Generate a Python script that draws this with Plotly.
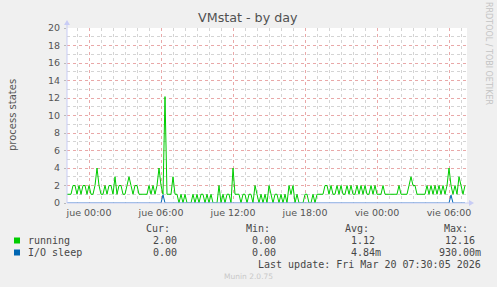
import pandas as pd
import plotly.graph_objects as go

# ---------------- data ----------------
start_time = "2026-03-18 22:10"
step_minutes = 10
running = [
    1, 1, 1, 2, 2, 1, 2, 1, 2, 2, 1, 2, 1, 1, 2, 4, 2, 1, 1, 2,
    1, 2, 2, 1, 3, 1, 2, 2, 1, 1, 2, 3, 2, 1, 2, 2, 1, 1, 1, 1,
    1, 2, 1, 2, 1, 2, 4, 2, 1, 12.16, 1, 1, 1, 3, 1, 1, 0, 1, 0, 1,
    0, 0, 0, 1, 0, 1, 0, 1, 1, 0, 1, 0, 1, 0, 0, 0, 2, 0, 1, 0,
    1, 1, 0, 4, 1, 1, 1, 0, 1, 1, 0, 1, 1, 0, 2, 1, 0, 1, 0, 1,
    0, 2, 1, 0, 1, 1, 0, 1, 0, 1, 0, 2, 1, 2, 0, 1, 0, 0, 0, 1,
    1, 0, 0, 1, 0, 1, 1, 1, 1, 2, 2, 1, 2, 1, 1, 2, 1, 2, 1, 1,
    2, 1, 2, 1, 1, 2, 1, 2, 1, 2, 1, 1, 2, 1, 2, 1, 1, 1, 2, 1,
    1, 1, 1, 1, 1, 1, 2, 1, 1, 1, 1, 2, 3, 2, 2, 1, 1, 1, 1, 1,
    2, 1, 2, 1, 2, 1, 2, 1, 2, 1, 2, 4, 2, 1, 2, 1, 3, 2, 1, 2,
]
io_sleep = [0.0] * len(running)
io_sleep_spikes = {48: 0.93, 192: 0.9}

x_range = ["2026-03-18 22:10", "2026-03-20 07:30"]
tick_vals = ["2026-03-19 00:00", "2026-03-19 06:00", "2026-03-19 12:00",
             "2026-03-19 18:00", "2026-03-20 00:00", "2026-03-20 06:00"]
tick_text = ["jue 00:00", "jue 06:00", "jue 12:00", "jue 18:00",
             "vie 00:00", "vie 06:00"]

series_names = ["running", "I/O sleep"]
series_colors = ["#00CC00", "#0066B3"]
stat_headers = ["Cur:", "Min:", "Avg:", "Max:"]
stats = [
    ["2.00", "0.00", "1.12", "12.16"],
    ["0.00", "0.00", "4.84m", "930.00m"],
]
title = "VMstat - by day"
y_title = "process states"
last_update = "Last update: Fri Mar 20 07:30:05 2026"
footer = "Munin 2.0.75"
watermark = "RRDTOOL / TOBI OETIKER"

for k, v in io_sleep_spikes.items():
    io_sleep[k] = v

times = pd.date_range(start=start_time, periods=len(running), freq=f"{step_minutes}min")

# ---------------- figure ----------------
W, H = 497, 287
L, T, PW, PH = 67, 28, 400, 175


def px(x):
    return (x - L) / PW


def py(y):
    return (T + PH - y) / PH


fig = go.Figure()
fig.add_trace(go.Scatter(x=times, y=running, mode="lines",
                         line=dict(color=series_colors[0], width=1),
                         hoverinfo="skip", showlegend=False))
fig.add_trace(go.Scatter(x=times, y=io_sleep, mode="lines",
                         line=dict(color=series_colors[1], width=1),
                         hoverinfo="skip", showlegend=False))

grid_major = "#E9A8A8"
grid_minor = "#D4D4D4"
txt = "#555555"

fig.update_layout(
    width=W, height=H, autosize=False,
    margin=dict(l=L, r=W - L - PW, t=T, b=H - T - PH, pad=0),
    paper_bgcolor="#F0F0F0", plot_bgcolor="#FFFFFF",
    font=dict(family="DejaVu Sans", size=9.5, color=txt),
    xaxis=dict(
        type="date", range=x_range, tickmode="array",
        tickvals=tick_vals, ticktext=tick_text,
        showgrid=True, gridcolor=grid_major, griddash="dot", gridwidth=1,
        minor=dict(tickmode="linear", tick0="2026-03-19 00:00", dtick=3600000,
                   showgrid=True, gridcolor=grid_minor, griddash="dot", gridwidth=1),
        showline=False, zeroline=False, ticks="", ticklabelstandoff=2,
        tickfont=dict(size=9.5, color=txt, family="DejaVu Sans"),
    ),
    yaxis=dict(
        range=[0, 20], tickmode="linear", tick0=0, dtick=2,
        showgrid=True, gridcolor=grid_major, griddash="dot", gridwidth=1,
        minor=dict(tickmode="linear", tick0=0, dtick=1,
                   showgrid=True, gridcolor=grid_minor, griddash="dot", gridwidth=1),
        showline=False, zeroline=False, ticks="outside", ticklen=2,
        tickcolor="#BBBBBB", ticklabelstandoff=2,
        tickfont=dict(size=9.5, color=txt, family="DejaVu Sans"),
    ),
)

axis_col = "#C8CCF5"
shapes = [
    # left axis line + arrow
    dict(type="line", xref="paper", yref="paper", x0=0, x1=0, y0=0, y1=py(24),
         line=dict(color=axis_col, width=1)),
    dict(type="path", xref="paper", yref="paper",
         path=f"M {px(64)} {py(25)} L {px(70)} {py(25)} L {px(67)} {py(20)} Z",
         fillcolor=axis_col, line=dict(width=0)),
    # bottom axis line + arrow
    dict(type="line", xref="paper", yref="paper", x0=0, x1=px(470), y0=0, y1=0,
         line=dict(color=axis_col, width=1)),
    dict(type="path", xref="paper", yref="paper",
         path=f"M {px(469)} {py(200)} L {px(469)} {py(206)} L {px(474)} {py(203)} Z",
         fillcolor=axis_col, line=dict(width=0)),
]
# legend squares
for r, col in enumerate(series_colors):
    yc = 240.5 + 12 * r
    shapes.append(dict(type="rect", xref="paper", yref="paper",
                       x0=px(14), x1=px(20), y0=py(yc + 3), y1=py(yc - 3),
                       fillcolor=col, line=dict(width=0)))
fig.update_layout(shapes=shapes)

mono = "DejaVu Sans Mono"
leg_col = "#474747"
ann = []


def add_text(text, x, y, anchor="left", size=10, color=leg_col, family=mono, angle=0):
    ann.append(dict(text=text, xref="paper", yref="paper", x=px(x), y=py(y),
                    xanchor=anchor, yanchor="middle", showarrow=False,
                    textangle=angle, font=dict(family=family, size=size, color=color)))


add_text(title, 248, 18, anchor="center", size=12.7, color="#505050", family="DejaVu Sans")
add_text(y_title, 12, 115, anchor="center", size=10, color=txt, family="DejaVu Sans", angle=-90)
add_text(watermark, 489, 53, anchor="center", size=8, color="#C4C4C4", family="DejaVu Sans", angle=90)

header_right = [172, 272, 371, 470]
value_right = [179, 278, 377, 477]
for h, xr in zip(stat_headers, header_right):
    add_text(h, xr, 228, anchor="right")
for r, name in enumerate(series_names):
    yrow = 240 + 12 * r
    add_text(name, 26, yrow, anchor="left")
    for s, xr in zip(stats[r], value_right):
        add_text(s, xr + (6 if s.endswith("m") else 0), yrow, anchor="right")
add_text(last_update, 483, 264, anchor="right")
add_text(footer, 248, 276, anchor="center", size=7.5, color="#C8C8C8", family="DejaVu Sans")

fig.update_layout(annotations=ann)
fig.write_html("out.html")
